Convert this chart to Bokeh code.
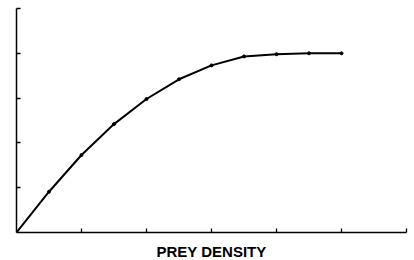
from bokeh.plotting import figure
from bokeh.models import FixedTicker, Range1d
from bokeh.embed import file_html
from bokeh.resources import INLINE

# data
prey_density = [0.0, 0.5, 1.0, 1.5, 2.0, 2.5, 3.0, 3.5, 4.0, 4.5, 5.0]
response = [0.0, 0.91, 1.73, 2.42, 2.98, 3.42, 3.73, 3.93, 3.98, 4.0, 4.0]
x_ticks = [1, 2, 3, 4, 5, 6]
y_ticks = [1, 2, 3, 4, 5]
x_label = "PREY DENSITY"

p = figure(frame_width=390, frame_height=224, output_backend="svg", toolbar_location=None,
           x_range=Range1d(0, 6), y_range=Range1d(0, 5),
           min_border_left=16, min_border_right=8, min_border_top=8, min_border_bottom=0)
p.outline_line_color = None
p.grid.grid_line_color = None

p.line(prey_density, response, line_color="black", line_width=2, line_join="round")
p.scatter(prey_density, response, size=3, color="black")

for ax in (p.xaxis[0], p.yaxis[0]):
    ax.axis_line_color = "black"
    ax.axis_line_width = 1.5
    ax.major_tick_line_color = "black"
    ax.major_tick_line_width = 1.3
    ax.major_tick_in = 4
    ax.major_tick_out = 0
    ax.minor_tick_line_color = None
    ax.major_label_standoff = 0

p.xaxis.ticker = FixedTicker(ticks=x_ticks)
p.yaxis.ticker = FixedTicker(ticks=y_ticks)
p.xaxis.major_label_overrides = {t: "" for t in x_ticks}
p.yaxis.major_label_overrides = {t: "" for t in y_ticks}
p.xaxis.axis_label = x_label
p.xaxis.axis_label_text_font = "Liberation Sans"
p.xaxis.axis_label_text_font_style = "bold"
p.xaxis.axis_label_text_font_size = "15px"
p.xaxis.axis_label_text_color = "black"
p.xaxis.axis_label_standoff = 10

open("out.html", "w").write(file_html(p, INLINE))
